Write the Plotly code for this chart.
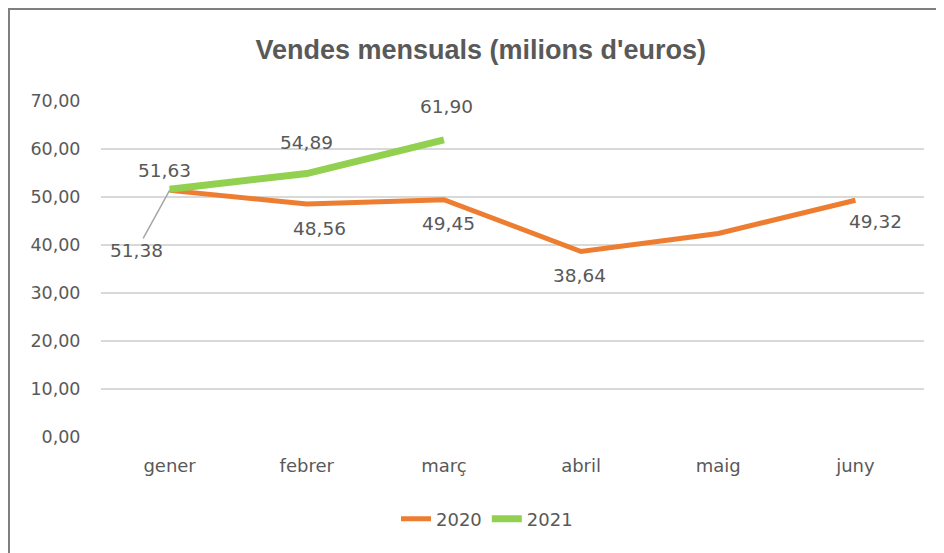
import plotly.graph_objects as go

months = ["gener", "febrer", "març", "abril", "maig", "juny"]
sales_2020 = [51.38, 48.56, 49.45, 38.64, 42.4, 49.32]
sales_2021 = [51.63, 54.89, 61.90]
y_ticks = [0, 10, 20, 30, 40, 50, 60, 70]

ORANGE = "#ED7D31"
GREEN = "#92D050"
GREY_TEXT = "#595959"
TEXT_FONT = "DejaVu Sans, sans-serif"
LABEL_FONT = dict(family=TEXT_FONT, size=18.5, color=GREY_TEXT)


def fmt(v):
    return f"{v:.2f}".replace(".", ",")


fig = go.Figure()
fig.add_trace(go.Scatter(x=months, y=sales_2020, mode="lines", name="2020",
                         line=dict(color=ORANGE, width=5)))
fig.add_trace(go.Scatter(x=months[:len(sales_2021)], y=sales_2021, mode="lines", name="2021",
                         line=dict(color=GREEN, width=7)))

# data labels: (month index, x shift, y shift) in pixels
labels_2020 = [(1, 13, -25), (2, 5, -24), (3, -2, -24), (5, 20, -21)]
labels_2021 = [(0, -5, 19), (1, 0, 31), (2, 3, 33)]

for i, dx, dy in labels_2020:
    fig.add_annotation(x=months[i], y=sales_2020[i], text=fmt(sales_2020[i]), showarrow=False,
                       xshift=dx, yshift=dy, font=LABEL_FONT)
for i, dx, dy in labels_2021:
    fig.add_annotation(x=months[i], y=sales_2021[i], text=fmt(sales_2021[i]), showarrow=False,
                       xshift=dx, yshift=dy, font=LABEL_FONT)

# gener 2020 label with leader line
fig.add_annotation(x=months[0], y=sales_2020[0], text=fmt(sales_2020[0]), showarrow=True,
                   ax=-33, ay=60, arrowhead=0, arrowwidth=1.5, arrowcolor="#a6a6a6",
                   standoff=0, font=LABEL_FONT)

# outer chart border
fig.add_shape(type="rect", xref="paper", yref="paper", x0=-0.1118, x1=1.2, y0=-0.6, y1=1.274,
              line=dict(color="#7f7f7f", width=2), fillcolor="rgba(0,0,0,0)", layer="below")

fig.update_layout(
    width=936,
    height=545,
    margin=dict(l=93, r=20, t=93, b=116),
    paper_bgcolor="white",
    plot_bgcolor="white",
    separators=",.",
    title=dict(text="<b>Vendes mensuals (milions d'euros)</b>", x=0.505, xanchor="center",
               y=0.923, yanchor="middle",
               font=dict(family="Liberation Sans, Arial, sans-serif", size=27, color=GREY_TEXT)),
    xaxis=dict(range=[-0.5, 5.5], showgrid=False, showline=False, zeroline=False,
               ticks="outside", ticklen=12, tickcolor="rgba(0,0,0,0)",
               tickfont=dict(family=TEXT_FONT, size=18, color=GREY_TEXT)),
    yaxis=dict(range=[0, 70], tickvals=y_ticks, tickformat=".2f", showgrid=True,
               gridcolor="#d9d9d9", gridwidth=1.5, zeroline=False, showline=False,
               ticks="outside", ticklen=16, tickcolor="rgba(0,0,0,0)",
               tickfont=dict(family=TEXT_FONT, size=17.5, color=GREY_TEXT)),
    legend=dict(orientation="h", x=0.469, xanchor="center", y=-0.244, yanchor="middle",
                font=dict(family=TEXT_FONT, size=18, color=GREY_TEXT)),
    showlegend=True,
)

fig.write_html("out.html")
